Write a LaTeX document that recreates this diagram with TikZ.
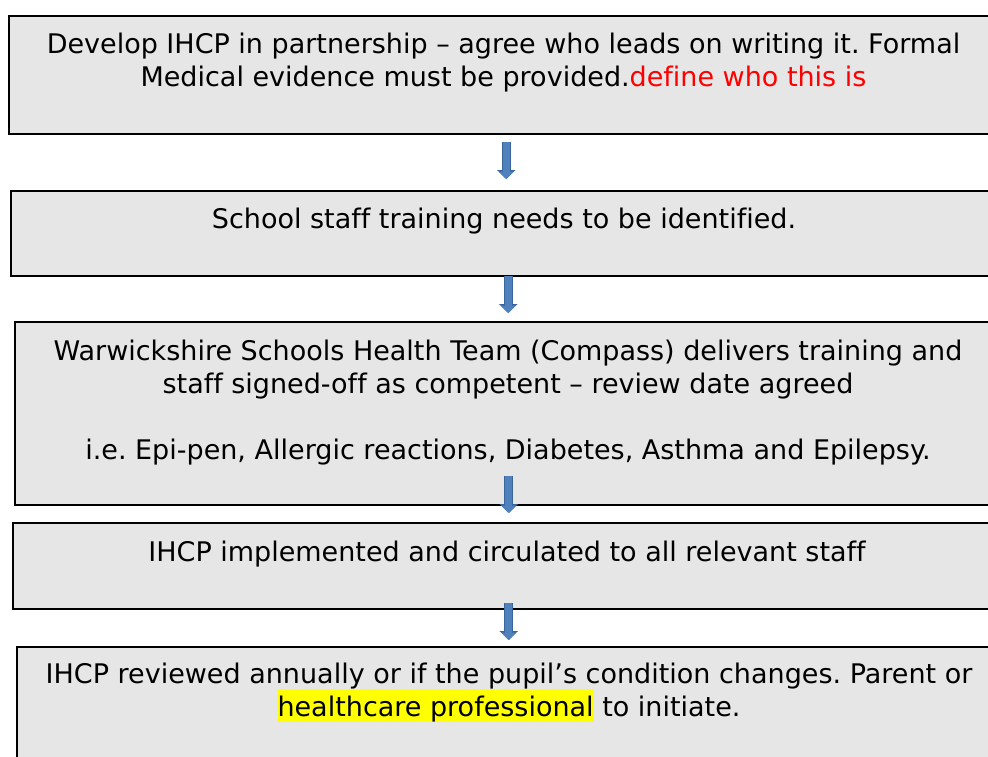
\documentclass[tikz,border=0pt]{standalone}
\usepackage{fontspec}
\setmainfont[Ligatures=NoCommon]{DejaVu Sans}
\usetikzlibrary{arrows.meta}
\frenchspacing

\definecolor{boxgrey}{HTML}{E6E6E6}
\definecolor{arrowblue}{HTML}{4F81BD}
\definecolor{arrowedge}{HTML}{38669C}
\definecolor{notered}{HTML}{FF0000}
\definecolor{markyellow}{HTML}{FFFF00}

\tikzset{
  stepbox/.style={draw=black, line width=1.5pt, fill=boxgrey, anchor=north west, inner sep=0pt},
  steptext/.style={align=center, anchor=base, inner sep=0pt, font=\fontsize{27}{33}\selectfont},
  flowarrow/.style={draw=arrowblue, line width=7pt, -{Triangle[width=15pt,length=7.5pt]},
    preaction={draw=arrowedge, line width=9pt, -{Triangle[width=18pt,length=9pt]}}}
}

\begin{document}
\begin{tikzpicture}[x=1pt,y=-1pt]
        % Page frame (boxes run off the right edge)
        \useasboundingbox (0,0) rectangle (988,756);
        \clip (0,0) rectangle (988,756);

        % The five step boxes
        \node[stepbox, minimum width=995, minimum height=118] (develop) at (8,15) {};
        \node[stepbox, minimum width=995, minimum height=85] (training) at (10,190) {};
        \node[stepbox, minimum width=988, minimum height=183] (compass) at (14,321) {};
        \node[stepbox, minimum width=992, minimum height=86] (implement) at (12,522) {};
        \node[stepbox, minimum width=988, minimum height=140] (review) at (16,646) {};

        % Texts of the boxes (base = last line)
        \node[steptext] (developtext) at (503.5,86) {Develop IHCP in partnership – agree who leads on writing it. Formal\\
          Medical evidence must be provided.\textcolor{notered}{define who this is}};
        \node[steptext] (trainingtext) at (504,228) {School staff training needs to be identified.};
        \node[steptext] (compasstext) at (508,459) {Warwickshire Schools Health Team (Compass) delivers training and\\
          staff signed-off as competent – review date agreed\\[33pt]
          i.e. Epi-pen, Allergic reactions, Diabetes, Asthma and Epilepsy.};
        \node[steptext] (implementtext) at (507,561) {IHCP implemented and circulated to all relevant staff};
        \node[steptext] (reviewtext) at (509,716) {IHCP reviewed annually or if the pupil’s condition changes. Parent or\\
          {\setlength{\fboxsep}{0pt}\colorbox{markyellow}{\rule[-6pt]{0pt}{33pt}healthcare professional}} to initiate.};

        % Block arrows between the steps
        \draw[flowarrow] ([yshift=-7pt]develop.south) -- ([yshift=11pt]develop.south |- training.north);
        \draw[flowarrow] ([yshift=1pt]training.south) -- ([yshift=8pt]training.south |- compass.north);
        \draw[flowarrow] ([yshift=30pt]compass.south) -- ([yshift=9pt]compass.south |- implement.north);
        \draw[flowarrow] ([yshift=7pt]implement.south) -- ([yshift=6pt]implement.south |- review.north);
\end{tikzpicture}
\end{document}
